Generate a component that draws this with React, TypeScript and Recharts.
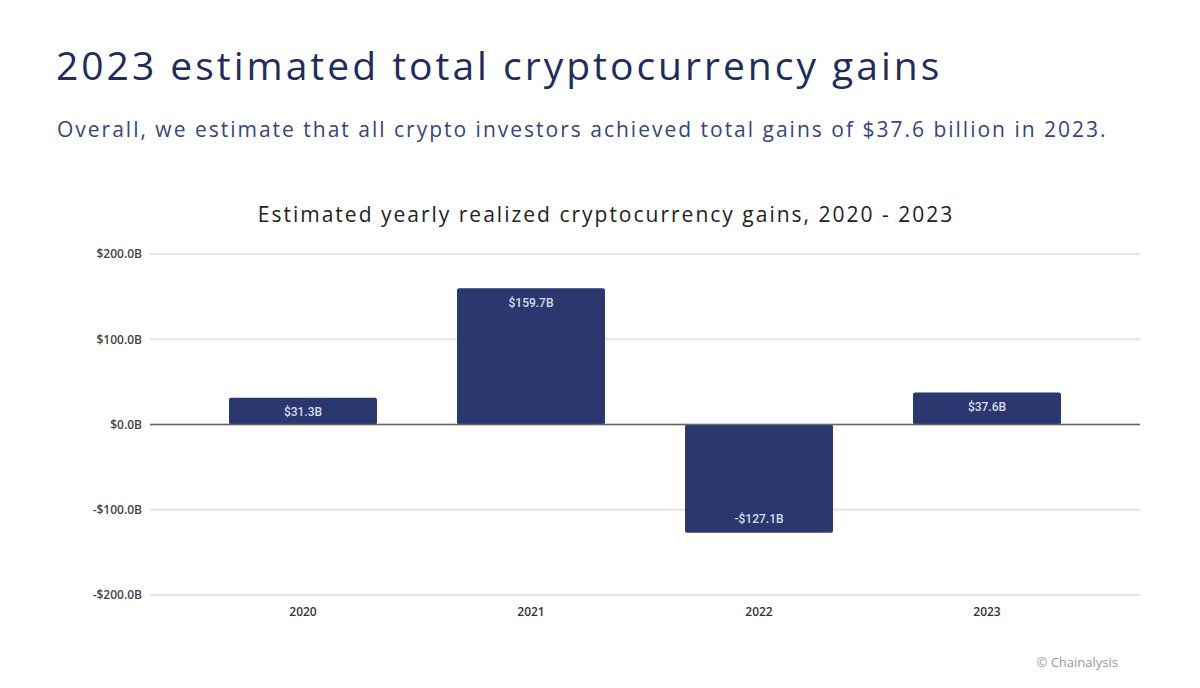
import { BarChart, Bar, XAxis, YAxis, CartesianGrid, ReferenceLine, LabelList } from 'recharts'

// ── Data ──

const years = ['2020', '2021', '2022', '2023']
const gains = [31.3, 159.7, -127.1, 37.6]
const yTicks = [-200, -100, 0, 100, 200]

const data = years.map((year, i) => ({ year, gains: gains[i] }))

const NAVY = '#2a386f'

const fmt = (v: number) => (v < 0 ? `-$${Math.abs(v).toFixed(1)}B` : `$${v.toFixed(1)}B`)

function BarLabel(props: any) {
  const { x, y, width, height, value } = props
  const top = Math.min(y, y + height)
  const bottom = Math.max(y, y + height)
  const cy = value >= 0 ? top + 14 : bottom - 14
  return (
    <text
      x={x + width / 2}
      y={cy}
      dy="0.35em"
      textAnchor="middle"
      fill="#d9ddee"
      fontFamily="Roboto"
      fontWeight={500}
      fontSize={12}
    >
      {fmt(value)}
    </text>
  )
}

export default function App() {
  return (
    <div style={{ position: 'relative', width: 1200, height: 688, background: '#fff', overflow: 'hidden' }}>
      <style>{'body{margin:0}'}</style>
      <div
        style={{
          position: 'absolute',
          left: 56,
          top: 45,
          fontFamily: 'Open Sans',
          fontSize: 39,
          letterSpacing: 3,
          color: '#1f2d5c',
          whiteSpace: 'nowrap',
          lineHeight: 1,
        }}
      >
        2023 estimated total cryptocurrency gains
      </div>
      <div
        style={{
          position: 'absolute',
          left: 57,
          top: 119,
          fontFamily: 'Open Sans',
          fontSize: 21,
          letterSpacing: 2,
          color: '#36457a',
          whiteSpace: 'nowrap',
          lineHeight: 1,
        }}
      >
        Overall, we estimate that all crypto investors achieved total gains of $37.6 billion in 2023.
      </div>
      <div
        style={{
          position: 'absolute',
          left: 0,
          width: 1212,
          top: 204,
          textAlign: 'center',
          fontFamily: 'Open Sans',
          fontSize: 21,
          letterSpacing: 2,
          color: '#222',
          whiteSpace: 'nowrap',
          lineHeight: 1,
        }}
      >
        Estimated yearly realized cryptocurrency gains, 2020 - 2023
      </div>
      <div style={{ position: 'absolute', left: 0, top: 0 }}>
        <BarChart
          width={1200}
          height={688}
          data={data}
          margin={{ top: 254, right: 60, bottom: 63, left: 0 }}
          barSize={148}
        >
          <CartesianGrid vertical={false} stroke="#e4e4e4" strokeWidth={2} />
          <XAxis
            dataKey="year"
            axisLine={false}
            tickLine={false}
            height={30}
            tickMargin={6}
            padding={{ left: 39, right: 39 }}
            tick={{ fill: '#333', fontSize: 12, fontFamily: 'Open Sans', fontWeight: 600 }}
          />
          <YAxis
            width={150}
            domain={[-200, 200]}
            ticks={yTicks}
            axisLine={false}
            tickLine={false}
            tickFormatter={fmt}
            tick={{ fill: '#444', fontSize: 12, fontFamily: 'Open Sans', fontWeight: 600 }}
          />
          <ReferenceLine y={0} stroke="#666" strokeWidth={1.5} />
          <Bar dataKey="gains" fill={NAVY} radius={2} isAnimationActive={false}>
            <LabelList dataKey="gains" content={BarLabel} />
          </Bar>
        </BarChart>
      </div>
      <div
        style={{
          position: 'absolute',
          right: 82,
          top: 653,
          fontFamily: 'Open Sans',
          fontSize: 13,
          color: '#999',
          whiteSpace: 'nowrap',
        }}
      >
        © Chainalysis
      </div>
    </div>
  )
}
